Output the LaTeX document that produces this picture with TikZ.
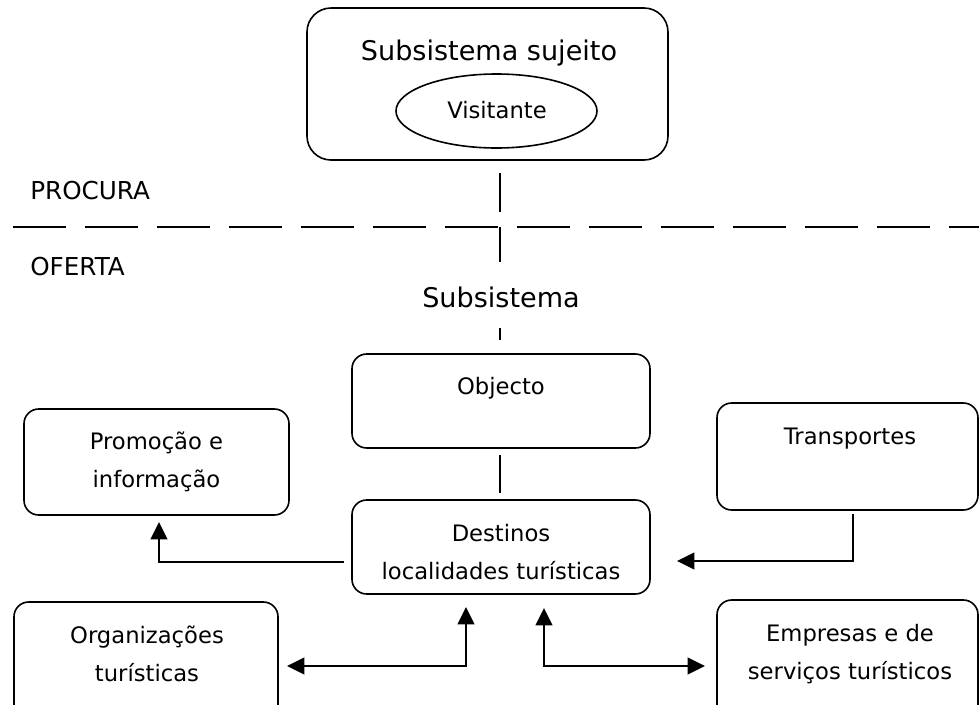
\documentclass[tikz,border=0pt]{standalone}
\usepackage{fontspec}
\setmainfont{DejaVu Sans}
\usetikzlibrary{shapes.geometric,arrows.meta,calc}
\tikzset{
  box/.style={draw, rounded corners=11pt, line width=1.2pt, inner sep=0pt, outer sep=0pt},
  big/.style={font=\fontsize{20.3}{25}\selectfont, inner sep=0pt},
  small/.style={font=\fontsize{17}{29}\selectfont, inner sep=0pt, align=center},
  caps/.style={font=\fontsize{18.5}{22}\selectfont, inner sep=0pt},
  thinline/.style={line width=1.1pt},
  conn/.style={line width=1.6pt, -{Triangle[length=13pt,width=12.5pt]}},
  dconn/.style={line width=1.6pt, {Triangle[length=13pt,width=12.5pt]}-{Triangle[length=13pt,width=12.5pt]}}
}
\begin{document}
\begin{tikzpicture}[x=0.75pt,y=-0.75pt]
\useasboundingbox (0,0) rectangle (979,704);
\clip (0,0) rectangle (979,704);
% top subsystem
\node[box, rounded corners=18pt, minimum width=270.75pt, minimum height=114pt] (top) at (487.5,84) {};
\node[big] (toptitle) at (489,53) {Subsistema sujeito};
\node[draw, ellipse, line width=1.2pt, inner sep=0pt, minimum width=150.75pt, minimum height=55.5pt] (vis) at (496.5,111) {};
\node[small] (vistxt) at (497,110) {Visitante};
% procura / oferta
\node[caps, anchor=west] (procura) at (30,191) {PROCURA};
\node[caps, anchor=west] (oferta) at (30,267) {OFERTA};
\coordinate (dl) at (13,227);
\coordinate (dr) at (979,227);
\draw[line width=1.5pt, dash pattern=on 39.75pt off 14.25pt] (dl) -- (dr);
\coordinate (v1a) at (500,173);
\coordinate (v1b) at (500,212);
\coordinate (v2a) at (500,227);
\coordinate (v2b) at (500,262);
\draw[thinline] (v1a) -- (v1b);
\draw[thinline] (v2a) -- (v2b);
\node[big] (subs) at (501,297) {Subsistema};
\coordinate (v3a) at (500,328);
\coordinate (v3b) at (500,340);
\draw[thinline] (v3a) -- (v3b);
% objecto and destinos
\node[box, minimum width=223.5pt, minimum height=70.5pt] (obj) at (501,401) {};
\node[small] (objtxt) at (501,388) {Objecto};
\node[box, minimum width=223.5pt, minimum height=70.5pt] (dest) at (501,547) {};
\node[small] (desttxt) at (501,552) {Destinos\\localidades turísticas};
\draw[thinline] ($(obj.south)+(-1,7)$) -- ($(dest.north)+(-1,-7)$);
% side boxes
\node[box, minimum width=198.75pt, minimum height=79.5pt] (promo) at (156.5,462) {};
\node[small] (promotxt) at (156.5,462) {Promoção e\\informação};
\node[box, minimum width=195.75pt, minimum height=80.25pt] (trans) at (847.5,456.5) {};
\node[small] (transtxt) at (850,439) {Transportes};
\node[box, minimum width=198pt, minimum height=88.5pt] (org) at (146,661) {};
\node[small] (orgtxt) at (147,654) {Organizações\\turísticas};
\node[box, minimum width=195.75pt, minimum height=90pt] (emp) at (847.5,660) {};
\node[small] (emptxt) at (850,654) {Empresas e de\\serviços turísticos};
% connectors
\draw[conn] ($(dest.south west)+(-8,-32)$) -| ($(promo.south)+(2.5,7)$);
\draw[conn] ($(trans.south)+(5.5,4)$) |- ($(dest.east)+(27,14)$);
\draw[dconn] ($(org.east)+(9,5)$) -| ($(dest.south)+(-35,13)$);
\draw[dconn] ($(dest.south)+(43,14)$) |- ($(emp.west)+(-12,6)$);
\end{tikzpicture}
\end{document}
